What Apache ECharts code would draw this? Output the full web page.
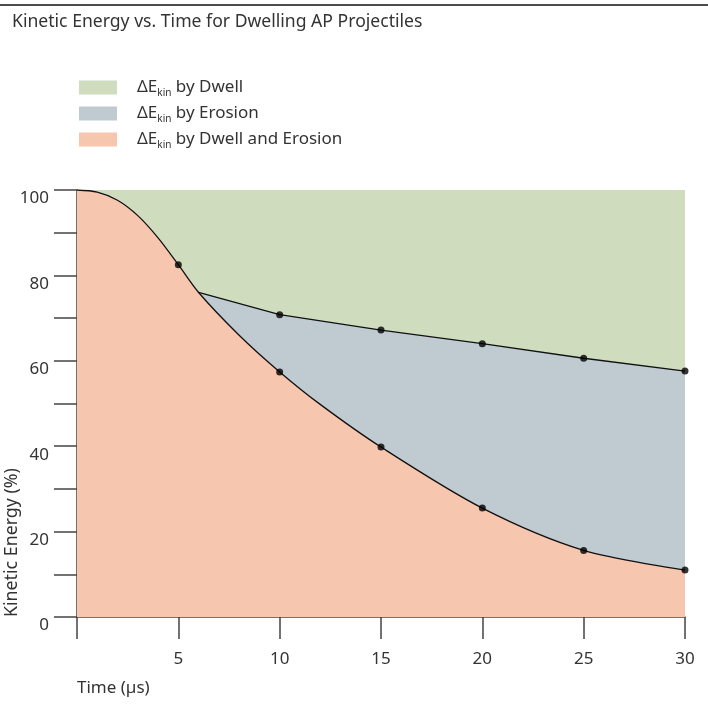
<!DOCTYPE html>
<html>
<head>
<meta charset="utf-8">
<script src="https://cdn.jsdelivr.net/npm/echarts@6/dist/echarts.min.js"></script>
<style>
html,body{margin:0;padding:0;background:#fff;}
#chart{width:708px;height:713px;}
</style>
</head>
<body>
<div id="chart"></div>
<script>
// Data
const seriesNames = ['Dwell', 'Erosion', 'Dwell and Erosion'];
// Lower boundary: remaining kinetic energy (dwell + erosion)
const lowerTime   = [0, 1, 2, 3, 4, 5, 6, 8, 10, 12, 15, 20, 25, 30];
const lowerEnergy = [100, 99.5, 97.6, 94.0, 88.8, 82.5, 76.0, 66.0, 57.4, 49.8, 39.8, 25.5, 15.6, 11.0];
// Upper boundary: energy lost by dwell only
const upperTime   = [6, 10, 15, 20, 25, 30];
const upperEnergy = [76.0, 70.8, 67.2, 64.0, 60.6, 57.6];
// Marked measurement points
const lowerDotTime   = [5, 10, 15, 20, 25, 30];
const lowerDotEnergy = [82.5, 57.4, 39.8, 25.5, 15.6, 11.0];
const upperDotTime   = [10, 15, 20, 25, 30];
const upperDotEnergy = [70.8, 67.2, 64.0, 60.6, 57.6];
const fullTime   = [0, 30];
const fullEnergy = [100, 100];
const xTicks = [5, 10, 15, 20, 25, 30];
const yTicks = [0, 20, 40, 60, 80, 100];

const colGreen = '#cfdcbe', colBlue = '#bfcbd1', colSalmon = '#f7c6ae';
const FONT = 'Noto Sans';
const zip = (a, b) => a.map((v, i) => [v, b[i]]);

const chart = echarts.init(document.getElementById('chart'), null, {renderer: 'canvas'});
const legendText = {
  a: {fontSize: 17, color: '#333', fontFamily: FONT, lineHeight: 22, verticalAlign: 'middle'},
  s: {fontSize: 10, color: '#333', fontFamily: FONT, lineHeight: 8, verticalAlign: 'bottom'},
  p: {width: 15}
};
chart.setOption({
  animation: false,
  textStyle: {fontFamily: FONT},
  grid: {left: 77, right: 23, top: 190, bottom: 96, containLabel: false},
  legend: {
    orient: 'vertical', left: 79, top: 79, padding: 0,
    itemWidth: 38, itemHeight: 14, itemGap: 6.5, icon: 'rect',
    data: [
      {name: seriesNames[0], itemStyle: {color: colGreen, borderWidth: 0}},
      {name: seriesNames[1], itemStyle: {color: colBlue, borderWidth: 0}},
      {name: seriesNames[2], itemStyle: {color: colSalmon, borderWidth: 0}}
    ],
    formatter: n => '{p|}{a|\u0394E}{s|kin}{a| by ' + n + '}',
    textStyle: {rich: legendText}
  },
  xAxis: {
    type: 'value', min: 0, max: 30, interval: 5,
    axisLine: {show: true, lineStyle: {color: '#444', width: 1.5}},
    axisTick: {show: true, length: 22, lineStyle: {color: '#444', width: 1.5}},
    axisLabel: {formatter: v => xTicks.includes(v) ? String(v) : '', fontSize: 17, color: '#333', margin: 34, fontFamily: FONT},
    splitLine: {show: false}
  },
  yAxis: {
    type: 'value', min: 0, max: 100, interval: 10,
    axisLine: {show: true, lineStyle: {color: '#444', width: 1.5}},
    axisTick: {show: true, length: 23, lineStyle: {color: '#444', width: 1.5}},
    axisLabel: {formatter: v => yTicks.includes(v) ? String(v) : '', fontSize: 17, color: '#333', margin: 28, verticalAlign: 'top', fontFamily: FONT},
    splitLine: {show: false}
  },
  graphic: [
    {type: 'line', shape: {x1: 0, y1: 5, x2: 708, y2: 5}, style: {stroke: '#111', lineWidth: 1.6}},
    {type: 'text', x: 12, y: 22, style: {text: 'Kinetic Energy vs. Time for Dwelling AP Projectiles', font: '17.6px "Noto Sans"', fill: '#333', verticalAlign: 'middle'}},
    {type: 'text', x: 77, y: 688, style: {text: 'Time (\u00b5s)', font: '17px "Noto Sans"', fill: '#333', verticalAlign: 'middle'}},
    {type: 'text', x: 12, y: 617, rotation: Math.PI / 2, style: {text: 'Kinetic Energy (%)', font: '17.8px "Noto Sans"', fill: '#333', align: 'left', verticalAlign: 'middle'}}
  ],
  series: [
    {name: seriesNames[0], type: 'line', data: zip(fullTime, fullEnergy), showSymbol: false, symbol: 'none',
      lineStyle: {width: 0}, areaStyle: {color: colGreen, opacity: 1}, itemStyle: {color: colGreen}, z: 1},
    {name: seriesNames[1], type: 'line', data: zip(upperTime, upperEnergy), showSymbol: false, symbol: 'none',
      lineStyle: {color: '#111', width: 1.3}, areaStyle: {color: colBlue, opacity: 1}, itemStyle: {color: colBlue}, z: 2},
    {name: seriesNames[2], type: 'line', data: zip(lowerTime, lowerEnergy), showSymbol: false, symbol: 'none', smooth: 0.3,
      lineStyle: {color: '#111', width: 1.3}, areaStyle: {color: colSalmon, opacity: 1}, itemStyle: {color: colSalmon}, z: 3},
    {type: 'scatter', data: zip(lowerDotTime, lowerDotEnergy).concat(zip(upperDotTime, upperDotEnergy)),
      symbolSize: 7, itemStyle: {color: '#000'}, z: 5}
  ]
});
</script>
</body>
</html>
